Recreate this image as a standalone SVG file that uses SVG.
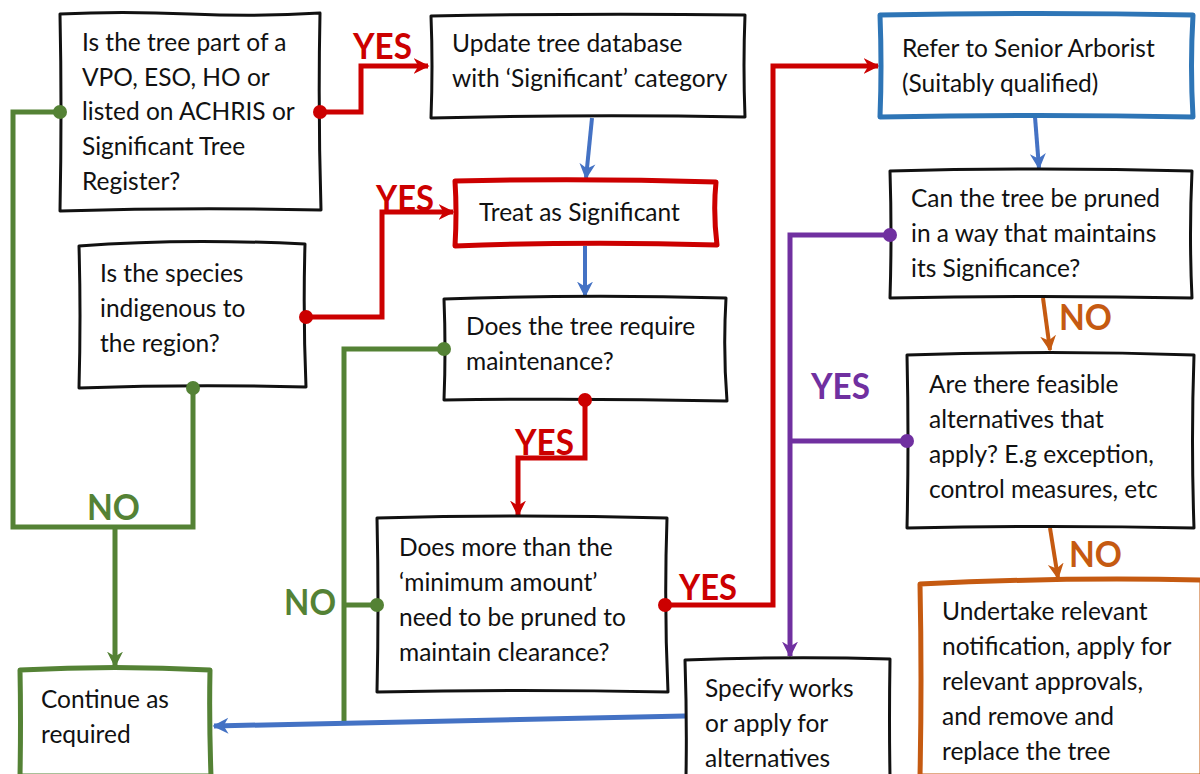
<svg xmlns="http://www.w3.org/2000/svg" width="1200" height="774" viewBox="0 0 1200 774">
<defs>
<style>
.t{font-family:"Lato","Liberation Sans",sans-serif;font-size:24.5px;fill:#111}
.lb{font-family:"Lato","Liberation Sans",sans-serif;font-size:36px;font-weight:bold}
.box{fill:#fff;stroke:#111;stroke-width:3;stroke-linejoin:round}
.c{fill:none;stroke-width:5;stroke-linejoin:miter}
.red{stroke:#CC0000}.grn{stroke:#548235}.blu{stroke:#4472C4}.pur{stroke:#7030A0}.org{stroke:#C55A11}
</style>
<marker id="aR" viewBox="0 0 10 10" refX="9" refY="5" markerUnits="userSpaceOnUse" markerWidth="16" markerHeight="18" orient="auto"><path d="M0,0 L10,5 L0,10 L3,5z" fill="#CC0000"/></marker>
<marker id="aG" viewBox="0 0 10 10" refX="9" refY="5" markerUnits="userSpaceOnUse" markerWidth="16" markerHeight="18" orient="auto"><path d="M0,0 L10,5 L0,10 L3,5z" fill="#548235"/></marker>
<marker id="aB" viewBox="0 0 10 10" refX="9" refY="5" markerUnits="userSpaceOnUse" markerWidth="16" markerHeight="18" orient="auto"><path d="M0,0 L10,5 L0,10 L3,5z" fill="#4472C4"/></marker>
<marker id="aP" viewBox="0 0 10 10" refX="9" refY="5" markerUnits="userSpaceOnUse" markerWidth="16" markerHeight="18" orient="auto"><path d="M0,0 L10,5 L0,10 L3,5z" fill="#7030A0"/></marker>
<marker id="aO" viewBox="0 0 10 10" refX="9" refY="5" markerUnits="userSpaceOnUse" markerWidth="16" markerHeight="18" orient="auto"><path d="M0,0 L10,5 L0,10 L3,5z" fill="#C55A11"/></marker>
</defs>
<rect width="1200" height="774" fill="#fff"/>

<g id="connectors">
<path class="c grn" d="M60,112 H13 V527 H193 V388"/>
<path class="c grn" d="M115,527 V666" marker-end="url(#aG)"/>
<path class="c grn" d="M444,349 H344 V722"/>
<path class="c grn" d="M377,605 H344"/>
<path class="c red" d="M320,112 H361 V66 H428" marker-end="url(#aR)"/>
<path class="c red" d="M306,317 H382 V212 H453" marker-end="url(#aR)"/>
<path class="c red" d="M585,400 V458 H518 V515" marker-end="url(#aR)"/>
<path class="c red" d="M665,605 H773 V66 H878" marker-end="url(#aR)"/>
<path class="c blu" style="stroke-width:4" d="M592,118 L586,178" marker-end="url(#aB)"/>
<path class="c blu" style="stroke-width:4" d="M585,246 V296" marker-end="url(#aB)"/>
<path class="c blu" style="stroke-width:4" d="M1035,117 L1039,168" marker-end="url(#aB)"/>
<path class="c blu" d="M685,716 L214,726" marker-end="url(#aB)"/>
<path class="c pur" d="M890,235 H790 V656" marker-end="url(#aP)"/>
<path class="c pur" d="M907,441 H790"/>
<path class="c org" style="stroke-width:4" d="M1043,298 L1050,350" marker-end="url(#aO)"/>
<path class="c org" style="stroke-width:4" d="M1050,528 L1058,578" marker-end="url(#aO)"/>
<text class="lb" x="353" y="59" fill="#CC0000" textLength="59" lengthAdjust="spacingAndGlyphs">YES</text>
<text class="lb" x="376" y="211" fill="#CC0000" textLength="58" lengthAdjust="spacingAndGlyphs">YES</text>
<text class="lb" x="515" y="455" fill="#CC0000" textLength="59" lengthAdjust="spacingAndGlyphs">YES</text>
<text class="lb" x="679" y="600" fill="#CC0000" textLength="58" lengthAdjust="spacingAndGlyphs">YES</text>
<text class="lb" x="811" y="399" fill="#7030A0" textLength="59" lengthAdjust="spacingAndGlyphs">YES</text>
<text class="lb" x="87" y="520" fill="#548235" textLength="53" lengthAdjust="spacingAndGlyphs">NO</text>
<text class="lb" x="284" y="615" fill="#548235" textLength="52" lengthAdjust="spacingAndGlyphs">NO</text>
<text class="lb" x="1059" y="330" fill="#C55A11" textLength="53" lengthAdjust="spacingAndGlyphs">NO</text>
<text class="lb" x="1069" y="567" fill="#C55A11" textLength="53" lengthAdjust="spacingAndGlyphs">NO</text>
</g>

<g id="n1">
<path class="box" d="M60,14 Q120,11 190,14 T320,13 Q318,110 321,210 Q190,207 60,211 Q62,110 60,14Z"/>
<text class="t" x="82" y="51">Is the tree part of a</text>
<text class="t" x="82" y="86">VPO, ESO, HO or</text>
<text class="t" x="82" y="120">listed on ACHRIS or</text>
<text class="t" x="82" y="155">Significant Tree</text>
<text class="t" x="82" y="190">Register?</text>
</g>
<g id="n2">
<path class="box" d="M431,16 Q590,13 745,15 Q743,65 745,117 Q590,114 431,118 Q433,65 431,16Z"/>
<text class="t" x="452" y="52">Update tree database</text>
<text class="t" x="452" y="87">with ‘Significant’ category</text>
</g>
<g id="n3">
<path class="box" style="stroke:#CC0000;stroke-width:5" d="M455,181 Q585,178 716,182 Q713,212 717,245 Q585,241 455,246 Q457,212 455,181Z"/>
<text class="t" x="479" y="221">Treat as Significant</text>
</g>
<g id="n4">
<path class="box" d="M79,246 Q180,238 305,244 Q303,315 306,387 Q190,384 79,388 Q81,315 79,246Z"/>
<text class="t" x="100" y="282">Is the species</text>
<text class="t" x="100" y="317">indigenous to</text>
<text class="t" x="100" y="352">the region?</text>
</g>
<g id="n5">
<path class="box" d="M444,299 Q585,294 726,298 Q723,350 727,401 Q585,398 444,400 Q446,350 444,299Z"/>
<text class="t" x="466" y="335">Does the tree require</text>
<text class="t" x="466" y="370">maintenance?</text>
</g>
<g id="n6">
<path class="box" d="M377,518 Q520,514 667,518 Q664,605 668,692 Q520,689 377,692 Q379,605 377,518Z"/>
<text class="t" x="399" y="556">Does more than the</text>
<text class="t" x="399" y="591">‘minimum amount’</text>
<text class="t" x="399" y="626">need to be pruned to</text>
<text class="t" x="399" y="661">maintain clearance?</text>
</g>
<g id="n7">
<path class="box" style="stroke:#548235;stroke-width:5" d="M20,670 Q115,665 210,670 Q209,720 211,776 L20,776 Q21,720 20,670Z"/>
<text class="t" x="41" y="708">Continue as</text>
<text class="t" x="41" y="743">required</text>
</g>
<g id="n8">
<path class="box" style="stroke:#2E75B6;stroke-width:5" d="M880,15 Q1040,12 1193,15 Q1190,66 1193,117 Q1040,114 880,117 Q882,66 880,15Z"/>
<text class="t" x="902" y="57">Refer to Senior Arborist</text>
<text class="t" x="902" y="92">(Suitably qualified)</text>
</g>
<g id="n9">
<path class="box" d="M890,171 Q1040,167 1192,171 Q1189,235 1192,298 Q1040,295 890,298 Q892,235 890,171Z"/>
<text class="t" x="911" y="207">Can the tree be pruned</text>
<text class="t" x="911" y="242">in a way that maintains</text>
<text class="t" x="911" y="277">its Significance?</text>
</g>
<g id="n10">
<path class="box" d="M907,355 Q1050,350 1194,355 Q1191,440 1194,528 Q1050,525 907,528 Q909,440 907,355Z"/>
<text class="t" x="929" y="393">Are there feasible</text>
<text class="t" x="929" y="428">alternatives that</text>
<text class="t" x="929" y="463">apply? E.g exception,</text>
<text class="t" x="929" y="498">control measures, etc</text>
</g>
<g id="n11">
<path class="box" style="stroke:#C55A11;stroke-width:5" d="M920,584 Q1060,577 1202,580 L1202,776 L920,776 Q922,680 920,584Z"/>
<text class="t" x="942" y="620">Undertake relevant</text>
<text class="t" x="942" y="655">notification, apply for</text>
<text class="t" x="942" y="690">relevant approvals,</text>
<text class="t" x="942" y="725">and remove and</text>
<text class="t" x="942" y="760">replace the tree</text>
</g>
<g id="n12">
<path class="box" d="M685,660 Q790,656 890,659 Q889,720 890,776 L686,776 Q687,720 685,660Z"/>
<text class="t" x="705" y="697">Specify works</text>
<text class="t" x="705" y="732">or apply for</text>
<text class="t" x="705" y="767">alternatives</text>
</g>

<g id="connector-dots">
<circle cx="60" cy="112" r="7" fill="#548235"/>
<circle cx="193" cy="388" r="7" fill="#548235"/>
<circle cx="444" cy="349" r="7" fill="#548235"/>
<circle cx="377" cy="605" r="7" fill="#548235"/>
<circle cx="320" cy="112" r="7" fill="#CC0000"/>
<circle cx="306" cy="317" r="7" fill="#CC0000"/>
<circle cx="585" cy="400" r="7" fill="#CC0000"/>
<circle cx="665" cy="605" r="7" fill="#CC0000"/>
<circle cx="890" cy="235" r="7" fill="#7030A0"/>
<circle cx="907" cy="441" r="7" fill="#7030A0"/>
</g>
</svg>
